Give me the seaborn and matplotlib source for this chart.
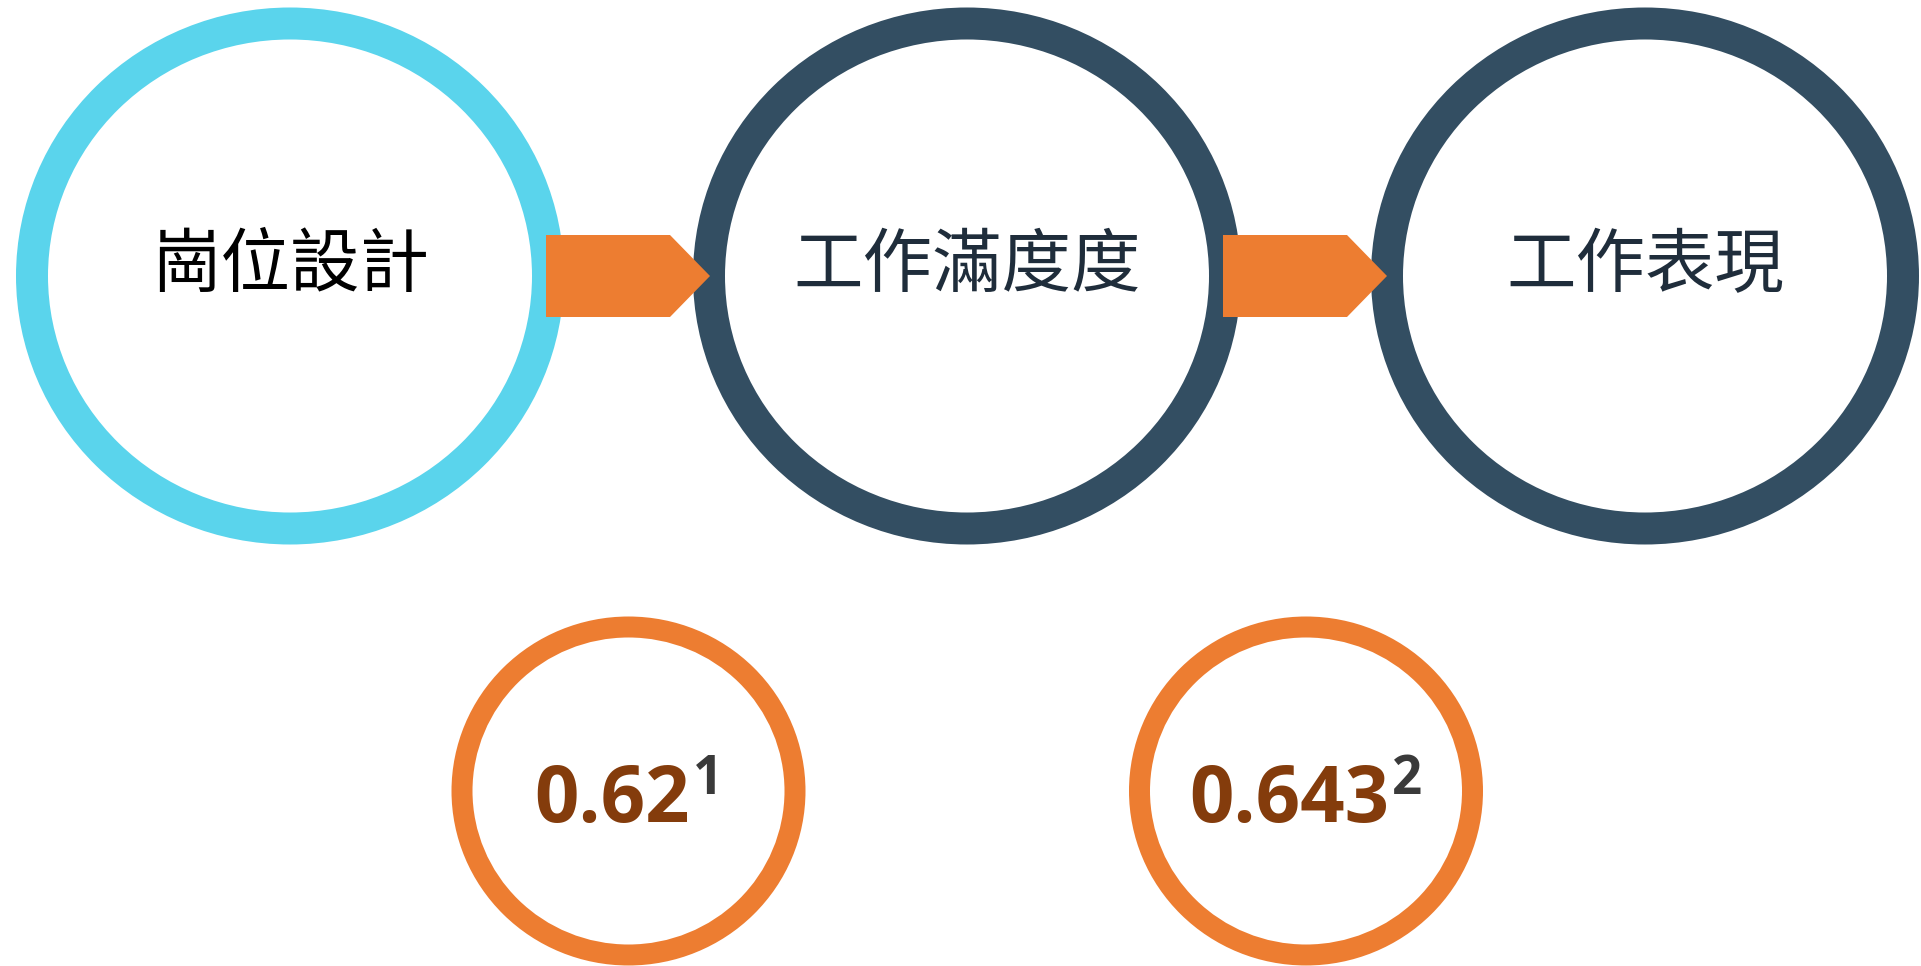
import matplotlib
matplotlib.use("Agg")
import matplotlib.pyplot as plt
from matplotlib.patches import Ellipse, Polygon
import seaborn as sns

# ---- data ----
stage_labels = ["崗位設計", "工作滿度度", "工作表現"]
coefficients = ["0.62", "0.643"]
footnotes = ["1", "2"]

# ---- styles ----
sns.set_theme(style="white")
plt.rcParams['font.family'] = ['Noto Sans CJK TC', 'DejaVu Sans']

ring_colors = ["#5AD4EC", "#334E62", "#334E62"]
label_colors = ["#000000", "#1F2D3B", "#1F2D3B"]
orange = "#ED7D31"
brown = "#843C0C"
sup_color = "#3A3A3A"

W, H = 1921, 966
fig = plt.figure(figsize=(W / 100, H / 100), dpi=100)
ax = fig.add_axes([0, 0, 1, 1])
ax.set_xlim(0, W)
ax.set_ylim(H, 0)
ax.axis("off")

# layout
big_cx = [290, 967, 1645]
big_cy = 276
big_w, big_h, big_t = 548, 537, 32
small_cx = [628.5, 1306]
small_cy = 791
small_w, small_h, small_t = 354, 349, 21
arrow_x0 = [546, 1223]
arrow_len_rect = 124
arrow_tip = 40
arrow_y0, arrow_y1 = 235, 317

# big rings
for cx, col in zip(big_cx, ring_colors):
    ax.add_patch(Ellipse((cx, big_cy), big_w, big_h, facecolor=col, edgecolor="none", zorder=1))
    ax.add_patch(Ellipse((cx, big_cy), big_w - 2 * big_t, big_h - 2 * big_t,
                         facecolor="white", edgecolor="none", zorder=2))

# arrows
for x0 in arrow_x0:
    ym = (arrow_y0 + arrow_y1) / 2
    pts = [(x0, arrow_y0), (x0 + arrow_len_rect, arrow_y0), (x0 + arrow_len_rect + arrow_tip, ym),
           (x0 + arrow_len_rect, arrow_y1), (x0, arrow_y1)]
    ax.add_patch(Polygon(pts, closed=True, facecolor=orange, edgecolor="none", zorder=3))

# stage labels
for cx, lab, col in zip(big_cx, stage_labels, label_colors):
    ax.text(cx, 266, lab, ha="center", va="center", fontsize=50, color=col,
            fontweight="medium", zorder=4)

# small rings
for cx in small_cx:
    ax.add_patch(Ellipse((cx, small_cy), small_w, small_h, facecolor=orange, edgecolor="none", zorder=1))
    ax.add_patch(Ellipse((cx, small_cy), small_w - 2 * small_t, small_h - 2 * small_t,
                         facecolor="white", edgecolor="none", zorder=2))

# coefficient texts with superscript
fig.canvas.draw()
renderer = fig.canvas.get_renderer()
for cx, val, sup in zip(small_cx, coefficients, footnotes):
    t = ax.text(cx, 822, val, ha="center", va="baseline", fontsize=56, color=brown,
                fontweight="bold", family=["Open Sans", "DejaVu Sans"], zorder=4)
    s = ax.text(0, 794, sup, ha="left", va="baseline", fontsize=38, color=sup_color,
                fontweight="bold", family=["Open Sans", "DejaVu Sans"], zorder=4)
    bb = t.get_window_extent(renderer)
    sb = s.get_window_extent(renderer)
    gap = 3
    total = bb.width + gap + sb.width
    left = cx - total / 2
    t.set_x(left + bb.width / 2)
    s.set_x(left + bb.width + gap)

fig.savefig("out.png", dpi=100)
